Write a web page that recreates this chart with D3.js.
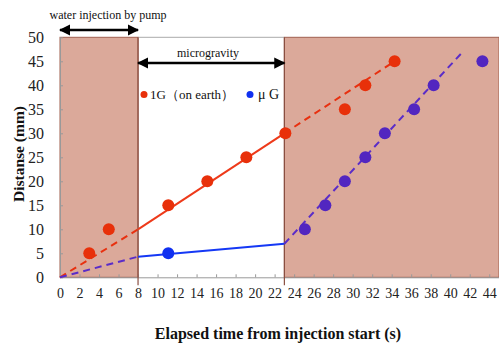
<!DOCTYPE html>
<html><head><meta charset="utf-8">
<script src="https://cdn.jsdelivr.net/npm/d3@7"></script>
<style>body{margin:0;background:#fff}svg{display:block}</style>
</head><body>
<svg id="c" width="499" height="343"></svg>
<script>
const xTicks = d3.range(0, 45, 2);
const yTicks = d3.range(0, 51, 5);
const redX = [3, 5, 11.1, 15.1, 19.1, 23.1, 29.2, 31.3, 34.3];
const redY = [5, 10, 15, 20, 25, 30, 35, 40, 45];
const blueX = [11.1];
const blueY = [5];
const purpleX = [25.1, 27.2, 29.2, 31.3, 33.3, 36.3, 38.3, 43.3];
const purpleY = [10, 15, 20, 25, 30, 35, 40, 45];
const redDash1 = [[0, 0], [8, 10]];
const redSolid = [[8, 10], [23, 30]];
const redDash2 = [[23, 30], [34.3, 45]];
const purpleDash1 = [[0, 0], [8, 4.3]];
const blueSolid = [[8, 4.3], [23, 7]];
const purpleDash2 = [[23, 7], [41.3, 47]];
const shaded = [[0, 8], [23, 45]];
const phaseBounds = [8, 23];

const svg = d3.select("#c");
const x = d3.scaleLinear().domain([0, 45]).range([60, 499]);
const y = d3.scaleLinear().domain([0, 50]).range([277.3, 37.3]);
const serif = "'Liberation Serif','DejaVu Serif',serif";

svg.selectAll("rect.sh").data(shaded).join("rect")
  .attr("x", d => x(d[0])).attr("y", y(50))
  .attr("width", d => x(d[1]) - x(d[0])).attr("height", y(0) - y(50))
  .attr("fill", "#dba99a").attr("stroke", "#a0604f").attr("stroke-width", 1);
svg.append("line").attr("x1", x(8)).attr("x2", x(23)).attr("y1", y(50)).attr("y2", y(50))
  .attr("stroke", "#aaa").attr("stroke-width", 1);

const xa = svg.append("g").attr("transform", `translate(0,${y(0)})`)
  .call(d3.axisBottom(x).tickValues(xTicks).tickSizeInner(-3).tickSizeOuter(0).tickPadding(11));
xa.select(".domain").attr("stroke", "#999");
xa.selectAll(".tick line").attr("stroke", "#999");
xa.selectAll("text").attr("font-family", serif).attr("font-size", 14).attr("fill", "#222");
const ya = svg.append("g").attr("transform", `translate(${x(0)},0)`)
  .call(d3.axisLeft(y).tickValues(yTicks).tickSizeInner(-3).tickSizeOuter(0).tickPadding(16));
ya.select(".domain").attr("stroke", "#999");
ya.selectAll(".tick line").attr("stroke", "#999");
ya.selectAll("text").attr("font-family", serif).attr("font-size", 16).attr("fill", "#222");

svg.selectAll("line.pb").data(phaseBounds).join("line")
  .attr("x1", d => x(d)).attr("x2", d => x(d)).attr("y1", y(50)).attr("y2", y(0) + 8)
  .attr("stroke", "#8a4e40").attr("stroke-width", 1.2);

const line = d3.line().x(d => x(d[0])).y(d => y(d[1]));
function path(data, color, dash) {
  svg.append("path").attr("d", line(data)).attr("fill", "none")
    .attr("stroke", color).attr("stroke-width", 2)
    .attr("stroke-dasharray", dash ? "7,5" : null);
}
path(redDash1, "#e8300f", true);
path(redSolid, "#ee3a1a", false);
path(redDash2, "#e8300f", true);
path(purpleDash1, "#5a2cc8", true);
path(blueSolid, "#1538f5", false);
path(purpleDash2, "#5a2cc8", true);

function dots(xs, ys, color) {
  svg.append("g").selectAll("circle").data(xs).join("circle")
    .attr("cx", d => x(d)).attr("cy", (d, i) => y(ys[i])).attr("r", 6)
    .attr("fill", color);
}
dots(redX, redY, "#e8300a");
dots(blueX, blueY, "#1030f0");
dots(purpleX, purpleY, "#5226c0");

svg.append("defs").html(`<marker id="ah" viewBox="0 0 10 10" refX="9" refY="5" markerWidth="4.5" markerHeight="4.5" orient="auto-start-reverse"><path d="M0,0 L10,5 L0,10 z" fill="#000"/></marker>`);
function arrow(x1, x2, yy) {
  svg.append("line").attr("x1", x1).attr("x2", x2).attr("y1", yy).attr("y2", yy)
    .attr("stroke", "#000").attr("stroke-width", 2.5)
    .attr("marker-start", "url(#ah)").attr("marker-end", "url(#ah)");
}
arrow(x(0), x(8), 30);
arrow(x(8), x(23), 63);

const txt = (t, xx, yy, size, anchor, weight) => svg.append("text").text(t)
  .attr("x", xx).attr("y", yy).attr("font-family", serif).attr("font-size", size)
  .attr("text-anchor", anchor || "start").attr("font-weight", weight || "normal").attr("fill", "#111");
txt("water injection by pump", 108, 19, 12, "middle");
txt("microgravity", 208, 57, 12, "middle");

svg.append("circle").attr("cx", 144).attr("cy", 94.5).attr("r", 3.5).attr("fill", "#e8300a");
txt("1G（on earth）", 150, 99, 13);
svg.append("circle").attr("cx", 250).attr("cy", 94.5).attr("r", 3.5).attr("fill", "#1030f0");
txt("μ G", 258, 99, 14);

txt("Elapsed time from injection start (s)", 278, 339, 16, "middle", "bold");
svg.append("text").text("Distanse (mm)").attr("transform", "translate(24,154) rotate(-90)")
  .attr("font-family", serif).attr("font-size", 15.5).attr("font-weight", "bold")
  .attr("text-anchor", "middle").attr("fill", "#111");
</script>
</body></html>
